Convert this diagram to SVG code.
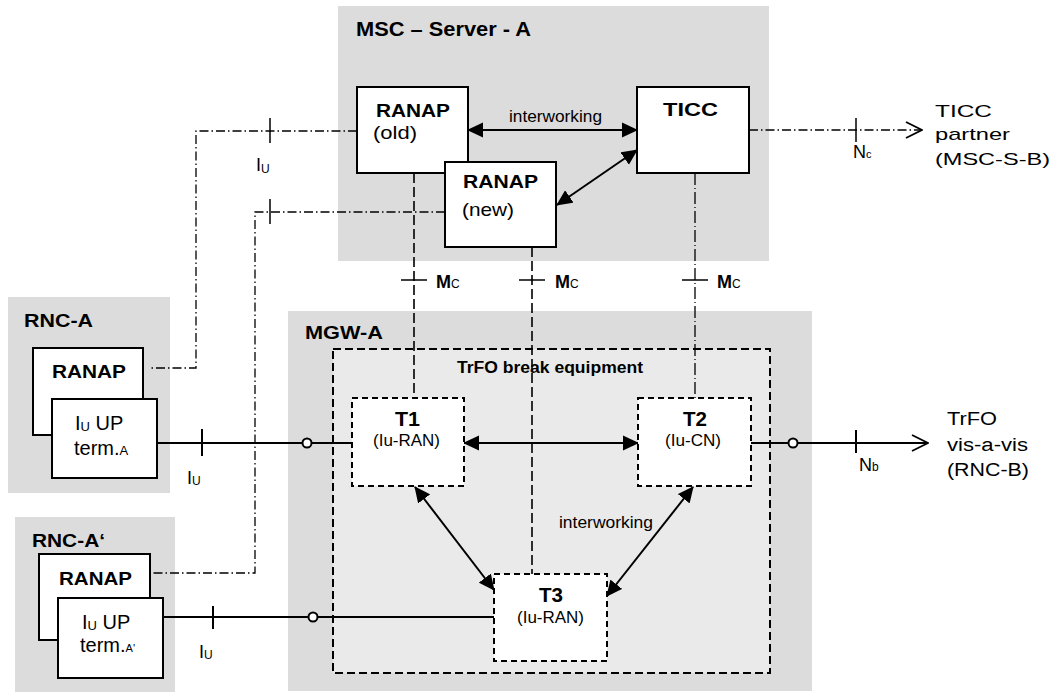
<svg xmlns="http://www.w3.org/2000/svg" width="1051" height="695" viewBox="0 0 1051 695">
<style>
text{font-family:"Liberation Sans",Arial,sans-serif;fill:#000}
.b{font-weight:bold}
.area{fill:#dcdcdc;stroke:none}
.box{fill:#fff;stroke:#000;stroke-width:2}
.dbox{fill:#fff;stroke:#000;stroke-width:2;stroke-dasharray:6 4}
.sol{fill:none;stroke:#000;stroke-width:2}
.thin{fill:none;stroke:#000;stroke-width:1.5}
.dd{fill:none;stroke:#000;stroke-width:1.3;stroke-dasharray:9 3 1.5 3}
.dsh{fill:none;stroke:#000;stroke-width:1.6;stroke-dasharray:10 4}
.dsh2{fill:none;stroke:#000;stroke-width:1.3;stroke-dasharray:12 3 1 3}
.arr{fill:none;stroke:#000;stroke-width:2;marker-start:url(#ah);marker-end:url(#ah)}
.circ{fill:#fff;stroke:#000;stroke-width:2}
</style>
<defs>
<marker id="ah" viewBox="0 0 16 16" refX="15" refY="8" markerWidth="16" markerHeight="16" markerUnits="userSpaceOnUse" orient="auto-start-reverse"><path d="M0,0.5 L16,8 L0,15.5 z" fill="#000"/></marker>
<marker id="oa" viewBox="0 0 18 18" refX="17" refY="9" markerWidth="18" markerHeight="18" markerUnits="userSpaceOnUse" orient="auto"><path d="M1,1 L17,9 L1,17" fill="none" stroke="#000" stroke-width="1.8"/></marker>
</defs>
<rect width="1051" height="695" fill="#fff"/>

<g id="msc-server-a">
<rect class="area" x="338" y="6" width="431" height="255"/>
<text class="b" x="356" y="36" font-size="21" textLength="175" lengthAdjust="spacingAndGlyphs">MSC – Server - A</text>
</g>
<g id="rnc-a">
<rect class="area" x="8" y="297" width="162" height="196"/>
<text class="b" x="24" y="327" font-size="18" textLength="69" lengthAdjust="spacingAndGlyphs">RNC-A</text>
</g>
<g id="rnc-a2">
<rect class="area" x="15" y="517" width="160" height="175"/>
<text class="b" x="32" y="547" font-size="18" textLength="73" lengthAdjust="spacingAndGlyphs">RNC-A‘</text>
</g>
<g id="mgw-a">
<rect class="area" x="288" y="311" width="524" height="380"/>
<text class="b" x="305" y="339" font-size="18" textLength="78" lengthAdjust="spacingAndGlyphs">MGW-A</text>
</g>
<g id="trfo-break-equipment">
<rect x="333" y="349" width="437" height="324" fill="#eaeaea" stroke="#000" stroke-width="2" stroke-dasharray="8 4"/>
<text class="b" x="457" y="373" font-size="16" textLength="186" lengthAdjust="spacingAndGlyphs">TrFO break equipment</text>
</g>

<g id="connectors">
<polyline class="dd" points="357,131 196,131 196,368 150,368"/>
<polyline class="dd" points="445,212 255,212 255,573 150,573"/>
<line class="dd" x1="749" y1="130" x2="922" y2="130" marker-end="url(#oa)"/>
<line class="dsh" x1="414" y1="173" x2="414" y2="398"/>
<line class="dsh" x1="532" y1="247" x2="532" y2="574"/>
<line class="dsh2" x1="695" y1="173" x2="695" y2="398"/>
<line class="sol" x1="157" y1="443" x2="352" y2="443"/>
<line class="sol" x1="163" y1="617" x2="494" y2="617"/>
<line class="sol" x1="751" y1="443" x2="928" y2="443" marker-end="url(#oa)"/>
<circle class="circ" cx="307" cy="443" r="4.5"/>
<circle class="circ" cx="313" cy="617" r="4.5"/>
<circle class="circ" cx="793" cy="443" r="4.5"/>
<line class="thin" x1="270" y1="118" x2="270" y2="143"/>
<line class="thin" x1="270" y1="199" x2="270" y2="224"/>
<line class="thin" x1="856" y1="118" x2="856" y2="142"/>
<line class="sol" x1="202" y1="429" x2="202" y2="456"/>
<line class="sol" x1="213" y1="606" x2="213" y2="629"/>
<line class="sol" x1="856" y1="430" x2="856" y2="453"/>
<line class="thin" x1="401" y1="280" x2="427" y2="280"/>
<line class="thin" x1="519" y1="280" x2="545" y2="280"/>
<line class="thin" x1="682" y1="280" x2="708" y2="280"/>
<line class="arr" x1="468" y1="130" x2="637" y2="130"/>
<line class="arr" x1="557" y1="205" x2="637" y2="150"/>
<line class="arr" x1="464" y1="443" x2="638" y2="443"/>
<line class="arr" x1="415" y1="487" x2="494" y2="590"/>
<line class="arr" x1="693" y1="487" x2="607" y2="596"/>
<text x="509" y="122" font-size="16" textLength="93" lengthAdjust="spacingAndGlyphs">interworking</text>
<text x="559" y="528" font-size="16" textLength="94" lengthAdjust="spacingAndGlyphs">interworking</text>
<text x="256" y="171" font-size="18">I<tspan font-size="12" dy="2">U</tspan></text>
<text x="187" y="484" font-size="18">I<tspan font-size="12" dy="1">U</tspan></text>
<text x="199" y="658" font-size="18">I<tspan font-size="12" dy="1">U</tspan></text>
<text class="b" x="436" y="288" font-size="18">M<tspan font-weight="normal" font-size="12">C</tspan></text>
<text class="b" x="555" y="288" font-size="18">M<tspan font-weight="normal" font-size="12">C</tspan></text>
<text class="b" x="717" y="288" font-size="18">M<tspan font-weight="normal" font-size="12">C</tspan></text>
<text x="853" y="158" font-size="18">N<tspan font-size="11">c</tspan></text>
<text x="859" y="471" font-size="18">N<tspan font-size="12">b</tspan></text>
</g>

<g id="ranap-old">
<rect class="box" x="357" y="87" width="111" height="86"/>
<text class="b" x="376" y="117" font-size="19" textLength="74" lengthAdjust="spacingAndGlyphs">RANAP</text>
<text x="373" y="139" font-size="19" textLength="44" lengthAdjust="spacingAndGlyphs">(old)</text>
</g>
<g id="ranap-new">
<rect class="box" x="445" y="162" width="111" height="85"/>
<text class="b" x="463" y="188" font-size="19" textLength="75" lengthAdjust="spacingAndGlyphs">RANAP</text>
<text x="462" y="216" font-size="19" textLength="52" lengthAdjust="spacingAndGlyphs">(new)</text>
</g>
<g id="ticc">
<rect class="box" x="637" y="87" width="112" height="86"/>
<text class="b" x="663" y="116" font-size="19" textLength="55" lengthAdjust="spacingAndGlyphs">TICC</text>
</g>

<g id="rnc-a-ranap">
<rect class="box" x="33" y="348" width="110" height="87"/>
<text class="b" x="52" y="378" font-size="19" textLength="74" lengthAdjust="spacingAndGlyphs">RANAP</text>
</g>
<g id="rnc-a-iu-up-term">
<rect class="box" x="52" y="399" width="105" height="79"/>
<text x="75" y="430" font-size="20">I<tspan font-size="13" dy="1">U</tspan><tspan dy="-1"> UP</tspan></text>
<text x="74" y="455" font-size="20">term.<tspan font-size="13">A</tspan></text>
</g>
<g id="rnc-a2-ranap">
<rect class="box" x="39" y="554" width="111" height="86"/>
<text class="b" x="59" y="585" font-size="19" textLength="73" lengthAdjust="spacingAndGlyphs">RANAP</text>
</g>
<g id="rnc-a2-iu-up-term">
<rect class="box" x="58" y="598" width="105" height="80"/>
<text x="82" y="629" font-size="20">I<tspan font-size="13" dy="1">U</tspan><tspan dy="-1"> UP</tspan></text>
<text x="80" y="652" font-size="20">term.<tspan font-size="11">A'</tspan></text>
</g>

<g id="t1">
<rect class="dbox" x="352" y="398" width="112" height="88"/>
<text class="b" x="395" y="426" font-size="20" textLength="25" lengthAdjust="spacingAndGlyphs">T1</text>
<text x="373" y="446" font-size="16" textLength="67" lengthAdjust="spacingAndGlyphs">(Iu-RAN)</text>
</g>
<g id="t2">
<rect class="dbox" x="638" y="398" width="113" height="88"/>
<text class="b" x="683" y="426" font-size="20" textLength="24" lengthAdjust="spacingAndGlyphs">T2</text>
<text x="665" y="446" font-size="16" textLength="56" lengthAdjust="spacingAndGlyphs">(Iu-CN)</text>
</g>
<g id="t3">
<rect class="dbox" x="494" y="574" width="113" height="87"/>
<text class="b" x="539" y="602" font-size="20" textLength="24" lengthAdjust="spacingAndGlyphs">T3</text>
<text x="517" y="623" font-size="16" textLength="67" lengthAdjust="spacingAndGlyphs">(Iu-RAN)</text>
</g>

<g id="ticc-partner">
<text x="935" y="117" font-size="17" textLength="57" lengthAdjust="spacingAndGlyphs">TICC</text>
<text x="935" y="140" font-size="17" textLength="75" lengthAdjust="spacingAndGlyphs">partner</text>
<text x="935" y="165" font-size="17" textLength="115" lengthAdjust="spacingAndGlyphs">(MSC-S-B)</text>
</g>
<g id="trfo-vis-a-vis">
<text x="947" y="425" font-size="18" textLength="50" lengthAdjust="spacingAndGlyphs">TrFO</text>
<text x="947" y="451" font-size="18" textLength="81" lengthAdjust="spacingAndGlyphs">vis-a-vis</text>
<text x="947" y="476" font-size="18" textLength="82" lengthAdjust="spacingAndGlyphs">(RNC-B)</text>
</g>
</svg>
